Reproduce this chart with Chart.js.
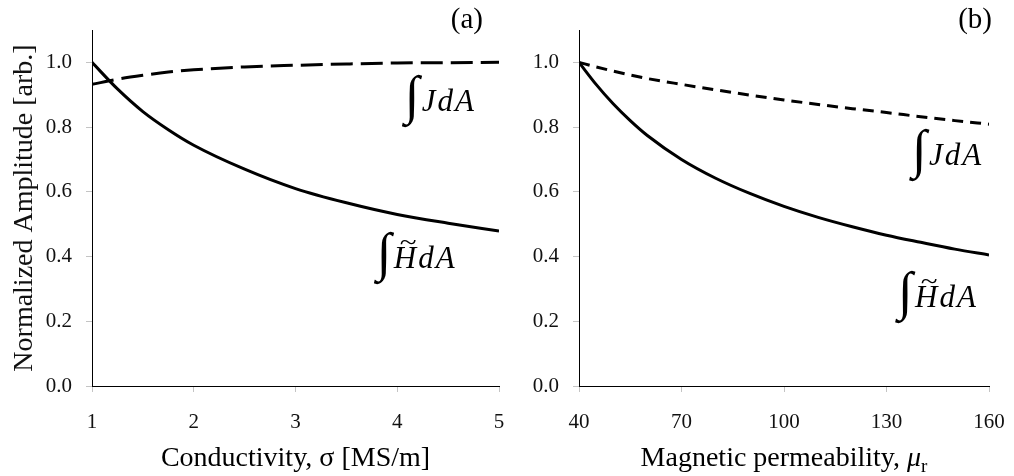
<!DOCTYPE html>
<html>
<head>
<meta charset="utf-8">
<script src="https://cdn.jsdelivr.net/npm/chart.js@4.4.1/dist/chart.umd.min.js"></script>
<style>
  body { margin: 0; background: #fff; }
  #wrap { position: relative; width: 1014px; height: 476px; }
  #wrap canvas { position: absolute; top: 0; }
</style>
</head>
<body>
<div id="wrap">
  <canvas id="chartSigma" width="507" height="476" style="left:0"></canvas>
  <canvas id="chartMu" width="507" height="476" style="left:507px"></canvas>
</div>
<script>
// (a) normalized amplitude vs conductivity [MS/m]
var sigma  = [1, 1.25, 1.5, 1.75, 2, 2.5, 3, 3.5, 4, 4.5, 5];
var sigmaH = [1.000, 0.918, 0.848, 0.792, 0.744, 0.670, 0.610, 0.566, 0.530, 0.503, 0.479];
var sigmaJ = [0.932, 0.948, 0.960, 0.970, 0.977, 0.986, 0.991, 0.995, 0.998, 0.999, 1.000];

// (b) normalized amplitude vs relative permeability
var mu  = [40, 45, 50, 55, 60, 70, 80, 90, 100, 110, 120, 130, 140, 150, 160];
var muH = [1.000, 0.932, 0.872, 0.820, 0.774, 0.700, 0.642, 0.595, 0.555, 0.521, 0.492, 0.466, 0.444, 0.423, 0.405];
var muJ = [1.000, 0.986, 0.973, 0.961, 0.950, 0.932, 0.915, 0.899, 0.884, 0.870, 0.857, 0.845, 0.832, 0.820, 0.809];

var yRange = {min: 0, max: 1.1, step: 0.2};

var SERIF = '"Liberation Serif", "Times New Roman", serif';

function pts(xs, ys) {
  return xs.map(function(x, i) { return {x: x, y: ys[i]}; });
}

// integral labels: {x, y} = left edge of the integral sign / text baseline, in data units
var labelsSigma = [
  {x: 4.045, y: 0.850, sym: 'J'},
  {x: 3.77,  y: 0.365, sym: 'H'}
];
var labelsMu = [
  {x: 136.6, y: 0.683, sym: 'J'},
  {x: 132.5, y: 0.244, sym: 'H'}
];

function drawChars(ctx, chars, x, y, gap) {
  chars.forEach(function(c) {
    ctx.fillText(c, x, y);
    x += ctx.measureText(c).width + gap;
  });
  return x;
}

var integralPlugin = {
  id: 'integralLabels',
  afterDatasetsDraw: function(chart, args, opts) {
    var ctx = chart.ctx, xs = chart.scales.x, ys = chart.scales.y;
    (opts.items || []).forEach(function(it) {
      var x = xs.getPixelForValue(it.x), y = ys.getPixelForValue(it.y);
      ctx.save();
      ctx.fillStyle = '#000';
      ctx.textAlign = 'left';
      ctx.textBaseline = 'alphabetic';

      // integral sign scaled so it runs from ~36px above baseline to ~17px below
      ctx.font = '100px ' + SERIF;
      var m = ctx.measureText('\u222B');
      var h = m.actualBoundingBoxAscent + m.actualBoundingBoxDescent;
      var size = 100 * 53 / h;
      ctx.font = size + 'px ' + SERIF;
      m = ctx.measureText('\u222B');
      ctx.fillText('\u222B', x + m.actualBoundingBoxLeft, y + 17 - m.actualBoundingBoxDescent);

      ctx.font = 'italic 31px ' + SERIF;
      var tx = x + 20;
      var hW = ctx.measureText(it.sym).width;
      drawChars(ctx, [it.sym, 'd', 'A'], tx, y, 2);
      if (it.sym === 'H') {
        // tilde over the H
        ctx.font = '26px ' + SERIF;
        var tw = ctx.measureText('~').width;
        ctx.save();
        ctx.translate(tx + hW / 2 + 3, y - 25);
        ctx.scale(hW * 0.75 / tw, 1);
        ctx.textAlign = 'center';
        ctx.textBaseline = 'middle';
        ctx.fillText('~', 0, 0);
        ctx.restore();
      }
      ctx.restore();
    });
  }
};

// x axis title with optional italic / subscript parts, plus the panel letter
var titlePlugin = {
  id: 'panelText',
  afterDraw: function(chart, args, opts) {
    var ctx = chart.ctx, ca = chart.chartArea;
    ctx.save();
    ctx.fillStyle = '#000';
    ctx.textBaseline = 'alphabetic';
    ctx.textAlign = 'left';
    var parts = opts.title;
    var fontOf = function(p) {
      return (p.italic ? 'italic ' : '') + (p.sub ? '19px ' : '28px ') + SERIF;
    };
    var w = 0;
    parts.forEach(function(p) { ctx.font = fontOf(p); w += ctx.measureText(p.t).width; });
    var x = (ca.left + ca.right) / 2 - w / 2;
    var base = 466;
    parts.forEach(function(p) {
      ctx.font = fontOf(p);
      ctx.fillText(p.t, x, base + (p.sub ? 6 : 0));
      x += ctx.measureText(p.t).width;
    });

    ctx.font = '29px ' + SERIF;
    ctx.textAlign = 'right';
    ctx.fillText(opts.letter, chart.width - opts.letterRight, 28);
    ctx.restore();
  }
};

function makeChart(id, cfg) {
  return new Chart(document.getElementById(id), {
    type: 'line',
    data: {
      datasets: [
        {
          data: pts(cfg.xs, cfg.h),
          borderColor: '#000',
          borderWidth: 3,
          pointRadius: 0,
          cubicInterpolationMode: 'monotone'
        },
        {
          data: pts(cfg.xs, cfg.j),
          borderColor: '#000',
          borderWidth: 3,
          borderDash: cfg.dash,
          pointRadius: 0,
          cubicInterpolationMode: 'monotone'
        }
      ]
    },
    options: {
      responsive: false,
      animation: false,
      events: [],
      layout: {padding: {top: 30, right: cfg.padRight, left: 0, bottom: 0}},
      plugins: {
        legend: {display: false},
        tooltip: {enabled: false},
        integralLabels: {items: cfg.labels},
        panelText: {title: cfg.title, letter: cfg.letter, letterRight: cfg.letterRight}
      },
      scales: {
        x: {
          type: 'linear',
          min: cfg.xMin,
          max: cfg.xMax,
          afterFit: function(s) {
            s.height = 90;
            s.paddingLeft = 0;
            s.paddingRight = 0;
          },
          border: {display: true, color: '#000', width: 1},
          grid: {display: true, drawOnChartArea: false, tickLength: 6, tickColor: '#c4c4c4'},
          ticks: {
            stepSize: cfg.xStep,
            includeBounds: false,
            maxRotation: 0,
            padding: 18,
            color: '#111',
            font: {family: SERIF, size: 21}
          }
        },
        y: {
          min: yRange.min,
          max: yRange.max,
          afterFit: function(s) { s.width = cfg.yWidth; },
          border: {display: true, color: '#000', width: 1},
          grid: {display: true, drawOnChartArea: false, tickLength: 6, tickColor: '#c4c4c4'},
          title: {
            display: cfg.yTitle !== '',
            text: cfg.yTitle,
            color: '#111',
            padding: {top: 8, bottom: 0},
            font: {family: SERIF, size: 28}
          },
          ticks: {
            stepSize: yRange.step,
            includeBounds: false,
            padding: 14,
            color: '#111',
            font: {family: SERIF, size: 21},
            callback: function(v) { return v.toFixed(1); }
          }
        }
      }
    },
    plugins: [integralPlugin, titlePlugin]
  });
}

makeChart('chartSigma', {
  xs: sigma, h: sigmaH, j: sigmaJ,
  dash: [22, 8],
  xMin: 1, xMax: 5, xStep: 1,
  yWidth: 92, padRight: 8,
  yTitle: 'Normalized Amplitude [arb.]',
  labels: labelsSigma,
  title: [{t: 'Conductivity, \u03C3 [MS/m]'}],
  letter: '(a)', letterRight: 24
});

makeChart('chartMu', {
  xs: mu, h: muH, j: muJ,
  dash: [11, 7],
  xMin: 40, xMax: 160, xStep: 30,
  yWidth: 72, padRight: 25,
  yTitle: '',
  labels: labelsMu,
  title: [{t: 'Magnetic permeability, '}, {t: '\u03BC', italic: true}, {t: 'r', sub: true}],
  letter: '(b)', letterRight: 22
});
</script>
</body>
</html>
